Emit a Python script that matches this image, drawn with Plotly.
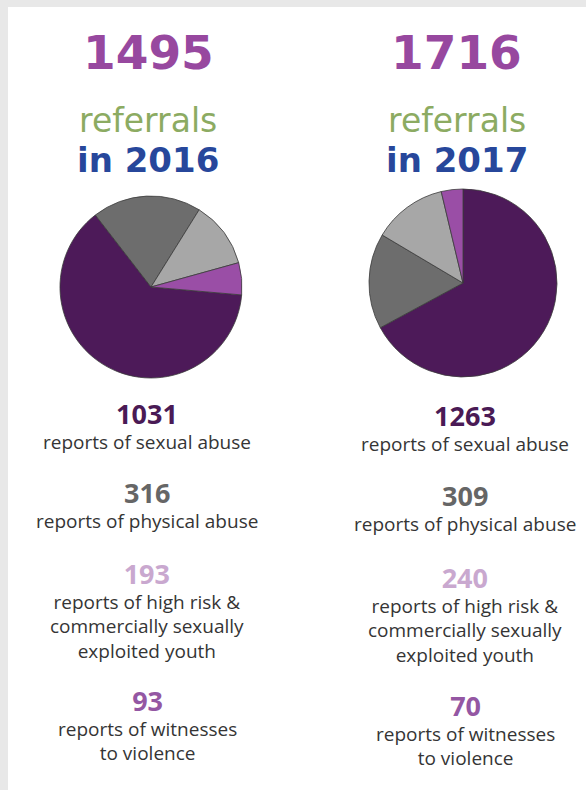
import plotly.graph_objects as go

# ---- data ----
years = ["2016", "2017"]
totals = [1495, 1716]
categories = [
    ["reports of sexual abuse"],
    ["reports of physical abuse"],
    ["reports of high risk &", "commercially sexually", "exploited youth"],
    ["reports of witnesses", "to violence"],
]
values_2016 = [1031, 316, 193, 93]
values_2017 = [1263, 309, 240, 70]

# ---- style ----
slice_colors = ["#4d1a59", "#6d6d6d", "#a7a7a7", "#9a4ea6"]
number_colors = ["#4a1a55", "#666666", "#c9a8cf", "#9457a3"]
W, H = 586, 790


def px(x):
    return x / W


def py(y):
    return 1 - y / H


fig = go.Figure()

pie_geom = [  # (cx, cy, r, rotation)
    (151, 287, 91, 95),
    (463, 283, 94, 0),
]
for vals, (cx, cy, r, rot), yr in zip([values_2016, values_2017], pie_geom, years):
    fig.add_trace(go.Pie(
        values=vals,
        labels=[" ".join(c) for c in categories],
        sort=False,
        direction="clockwise",
        rotation=rot,
        marker=dict(colors=slice_colors, line=dict(color="#3b3b3b", width=0.8)),
        textinfo="none",
        hoverinfo="label+value",
        showlegend=False,
        domain=dict(x=[px(cx - r), px(cx + r)], y=[py(cy + r), py(cy - r)]),
        name=yr,
    ))

ann = []
head_x = [148, 457]
for i, (yr, tot) in enumerate(zip(years, totals)):
    x = px(head_x[i])
    ann.append(dict(x=x, y=py(52), yanchor="middle", text=f"<b>{tot}</b>",
                    font=dict(family="DejaVu Sans", size=47, color="#97489f")))
    head_txt = (
        "<span style='font-size:33px;color:#8cab62'>referrals</span><br>"
        f"<span style='font-size:34px;font-weight:bold;color:#27479b'>in {yr}</span>"
    )
    ann.append(dict(x=x, y=py(99), yanchor="top", text=head_txt,
                    font=dict(family="DejaVu Sans", size=31, color="#27479b")))

body_x = [147, 465]
block_top = [[393, 472, 553, 680], [395, 475, 557, 685]]
for c, vals in enumerate([values_2016, values_2017]):
    x = px(body_x[c])
    for k, (v, lines) in enumerate(zip(vals, categories)):
        txt = (f"<span style='font-size:27px;color:{number_colors[k]}'><b>{v}</b></span><br>"
               + "<br>".join(lines))
        ann.append(dict(x=x, y=py(block_top[c][k]), yanchor="top", text=txt,
                        font=dict(family="Open Sans", size=19, color="#353535")))

for a in ann:
    a.update(xref="paper", yref="paper", xanchor="center", showarrow=False)

shapes = [
    dict(type="rect", xref="paper", yref="paper", x0=0, x1=1, y0=py(7), y1=1,
         fillcolor="#e8e8e8", line=dict(width=0), layer="below"),
    dict(type="rect", xref="paper", yref="paper", x0=0, x1=px(8), y0=0, y1=1,
         fillcolor="#e8e8e8", line=dict(width=0), layer="below"),
]

fig.update_layout(
    width=W, height=H,
    margin=dict(l=0, r=0, t=0, b=0),
    paper_bgcolor="white",
    plot_bgcolor="white",
    annotations=ann,
    shapes=shapes,
)

fig.write_html(
    "out.html",
    config={"displayModeBar": False},
    post_script="document.body.style.margin='0';document.body.style.overflow='hidden';",
)
